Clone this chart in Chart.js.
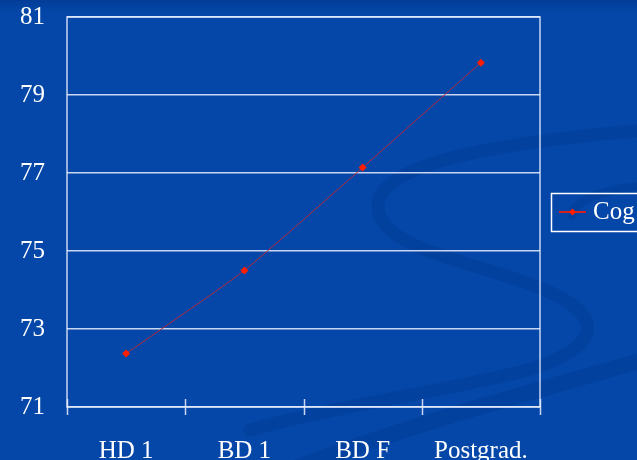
<!DOCTYPE html>
<html>
<head>
<meta charset="utf-8">
<script src="https://cdn.jsdelivr.net/npm/chart.js@4.4.1/dist/chart.umd.min.js"></script>
<style>
  html, body { margin: 0; padding: 0; background: #0447a8; overflow: hidden; }
  #wrap { width: 637px; height: 460px; position: relative; }
</style>
</head>
<body>
<div id="wrap"><canvas id="chart" width="637" height="460"></canvas></div>
<script>
// Education level categories and mean Cog score per level
const categories = ['HD 1', 'BD 1', 'BD F', 'Postgrad.'];
const cogScores = [72.37, 74.5, 77.14, 79.83];
const seriesName = 'Cog';
// Value axis range and tick labels
const yMin = 71;
const yMax = 81;
const yStep = 2;

const FONT = '"Liberation Serif", "Times New Roman", serif';
const GRID = 'rgba(235, 240, 255, 0.85)';
const LINE_RED = '#b8283a';
const POINT_RED = '#ff1e00';

// Slide-style background: deep blue with soft darker swooshes
const backdrop = {
  id: 'backdrop',
  beforeDraw(chart) {
    const { ctx, width, height } = chart;
    ctx.save();
    ctx.fillStyle = '#0447a8';
    ctx.fillRect(0, 0, width, height);
    const top = ctx.createLinearGradient(0, 0, 0, 12);
    top.addColorStop(0, 'rgba(0, 40, 120, 0.35)');
    top.addColorStop(1, 'rgba(0, 40, 120, 0)');
    ctx.fillStyle = top;
    ctx.fillRect(0, 0, width, 12);

    ctx.strokeStyle = 'rgba(0, 35, 110, 0.16)';
    ctx.lineCap = 'round';
    // S-shaped band
    ctx.lineWidth = 13;
    ctx.beginPath();
    ctx.moveTo(650, 130);
    ctx.bezierCurveTo(520, 140, 380, 160, 378, 205);
    ctx.bezierCurveTo(376, 250, 480, 262, 545, 290);
    ctx.bezierCurveTo(610, 318, 600, 350, 520, 372);
    ctx.bezierCurveTo(440, 392, 340, 405, 250, 430);
    ctx.stroke();
    // lower sweeping band
    ctx.lineWidth = 16;
    ctx.beginPath();
    ctx.moveTo(660, 355);
    ctx.bezierCurveTo(560, 385, 420, 420, 290, 470);
    ctx.stroke();
    // arc behind the legend
    ctx.lineWidth = 9;
    ctx.beginPath();
    ctx.moveTo(650, 185);
    ctx.bezierCurveTo(600, 190, 575, 200, 572, 215);
    ctx.stroke();
    ctx.restore();
  }
};

// Plot frame, category tick marks across the axis, and the legend box
const frame = {
  id: 'frame',
  afterDraw(chart) {
    const { ctx, chartArea: a } = chart;
    const x = chart.scales.x;
    ctx.save();
    ctx.strokeStyle = GRID;
    ctx.lineWidth = 1.5;
    ctx.strokeRect(a.left, a.top, a.right - a.left, a.bottom - a.top);
    ctx.beginPath();
    for (let i = 0; i <= categories.length; i++) {
      const px = Math.round(x.getPixelForValue(i - 0.5)) + 0.5;
      ctx.moveTo(px, a.bottom - 8);
      ctx.lineTo(px, a.bottom + 8);
    }
    ctx.stroke();

    // legend
    const lx = 551, ly = 193, lh = 38;
    const cy = ly + lh / 2;
    ctx.strokeStyle = '#ffffff';
    ctx.lineWidth = 1.5;
    ctx.strokeRect(lx + 0.5, ly + 0.5, 120, lh);
    ctx.strokeStyle = '#d42020';
    ctx.lineWidth = 2;
    ctx.beginPath();
    ctx.moveTo(559, cy);
    ctx.lineTo(586, cy);
    ctx.stroke();
    ctx.fillStyle = POINT_RED;
    ctx.beginPath();
    ctx.moveTo(572.5, cy - 3.5);
    ctx.lineTo(576, cy);
    ctx.lineTo(572.5, cy + 3.5);
    ctx.lineTo(569, cy);
    ctx.closePath();
    ctx.fill();
    ctx.fillStyle = '#ffffff';
    ctx.font = '25px ' + FONT;
    ctx.textBaseline = 'middle';
    ctx.textAlign = 'left';
    ctx.fillText(seriesName, 593, cy);
    ctx.restore();
  }
};

new Chart(document.getElementById('chart'), {
  type: 'line',
  data: {
    labels: categories,
    datasets: [{
      label: seriesName,
      data: cogScores,
      borderColor: LINE_RED,
      borderWidth: 1,
      tension: 0.15,
      pointStyle: 'rectRot',
      pointRadius: 4,
      pointBackgroundColor: POINT_RED,
      pointBorderColor: POINT_RED,
      pointBorderWidth: 0
    }]
  },
  options: {
    responsive: false,
    animation: false,
    devicePixelRatio: 1,
    layout: { padding: { top: 17, right: 97, left: 0, bottom: 0 } },
    plugins: { legend: { display: false }, tooltip: { enabled: false } },
    scales: {
      x: {
        offset: true,
        grid: { display: false },
        border: { display: false },
        ticks: {
          color: '#ffffff',
          font: { family: FONT, size: 25 },
          padding: 21,
          maxRotation: 0
        },
        afterFit(scale) {
          scale.height = 53;
          scale.paddingLeft = 0;
          scale.paddingRight = 0;
        }
      },
      y: {
        min: yMin,
        max: yMax,
        grid: { color: GRID, lineWidth: 1.5, drawTicks: false },
        border: { display: false },
        ticks: {
          stepSize: yStep,
          color: '#ffffff',
          font: { family: FONT, size: 25 },
          padding: 22
        },
        afterFit(scale) {
          scale.width = 67;
          scale.paddingTop = 0;
          scale.paddingBottom = 0;
        }
      }
    }
  },
  plugins: [backdrop, frame]
});
</script>
</body>
</html>
